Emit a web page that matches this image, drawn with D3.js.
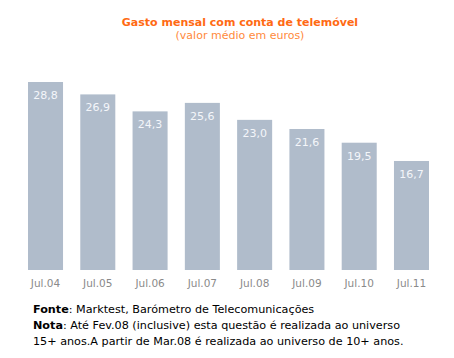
<!DOCTYPE html>
<html>
<head>
<meta charset="utf-8">
<script src="https://cdn.jsdelivr.net/npm/d3@7"></script>
<style>
  body { margin: 0; background: #fff; }
  svg { display: block; font-family: "DejaVu Sans", Verdana, sans-serif; }
</style>
</head>
<body>
<div id="chart"></div>
<script>
var categories = ["Jul.04", "Jul.05", "Jul.06", "Jul.07", "Jul.08", "Jul.09", "Jul.10", "Jul.11"];
var values = [28.8, 26.9, 24.3, 25.6, 23.0, 21.6, 19.5, 16.7];
var titleText = "Gasto mensal com conta de telemóvel";
var subtitleText = "(valor médio em euros)";

var width = 454, height = 358;

var svg = d3.select("#chart")
    .append("svg")
    .attr("width", width)
    .attr("height", height);

// x: bars 35px wide, step ~52px
var x = d3.scaleBand()
    .domain(categories)
    .range([28, 429])
    .paddingInner(0.33)
    .paddingOuter(0);

var y = d3.scaleLinear()
    .domain([0, 28.8])
    .range([270, 82]);

var fmt = function (v) { return d3.format(".1f")(v).replace(".", ","); };

// title
svg.append("text")
    .attr("x", 240).attr("y", 26)
    .attr("text-anchor", "middle")
    .style("font-size", "11px")
    .style("font-weight", "bold")
    .style("fill", "#ff6a13")
    .text(titleText);

svg.append("text")
    .attr("x", 240).attr("y", 39)
    .attr("text-anchor", "middle")
    .style("font-size", "11px")
    .style("fill", "#ff8a3c")
    .text(subtitleText);

// bars
svg.selectAll("rect.bar")
    .data(values)
    .enter()
    .append("rect")
    .attr("class", "bar")
    .attr("x", function (d, i) { return x(categories[i]); })
    .attr("y", function (d) { return y(d); })
    .attr("width", x.bandwidth())
    .attr("height", function (d) { return y(0) - y(d); })
    .style("fill", "#b0bccb");

// value labels inside bars
svg.selectAll("text.val")
    .data(values)
    .enter()
    .append("text")
    .attr("class", "val")
    .attr("x", function (d, i) { return x(categories[i]) + x.bandwidth() / 2; })
    .attr("y", function (d) { return y(d) + 17; })
    .attr("text-anchor", "middle")
    .style("font-size", "11px")
    .style("fill", "#f4f6fa")
    .text(fmt);

// x axis labels
var xAxis = svg.append("g")
    .attr("transform", "translate(0,270)")
    .call(d3.axisBottom(x).tickSize(0).tickPadding(10));
xAxis.select(".domain").remove();
xAxis.selectAll("text")
    .style("font-family", "\"DejaVu Sans\", Verdana, sans-serif")
    .style("font-size", "10.5px")
    .style("fill", "#8a8a8a");

// footnotes
var notes = svg.append("g").style("font-size", "11.2px").style("fill", "#000");

var t1 = notes.append("text").attr("x", 33).attr("y", 313);
t1.append("tspan").style("font-weight", "bold").text("Fonte");
t1.append("tspan").text(": Marktest, Barómetro de Telecomunicações");

var t2 = notes.append("text").attr("x", 33).attr("y", 329);
t2.append("tspan").style("font-weight", "bold").text("Nota");
t2.append("tspan").text(": Até Fev.08 (inclusive) esta questão é realizada ao universo");

notes.append("text").attr("x", 33).attr("y", 345)
    .text("15+ anos.A partir de Mar.08 é realizada ao universo de 10+ anos.");
</script>
</body>
</html>
